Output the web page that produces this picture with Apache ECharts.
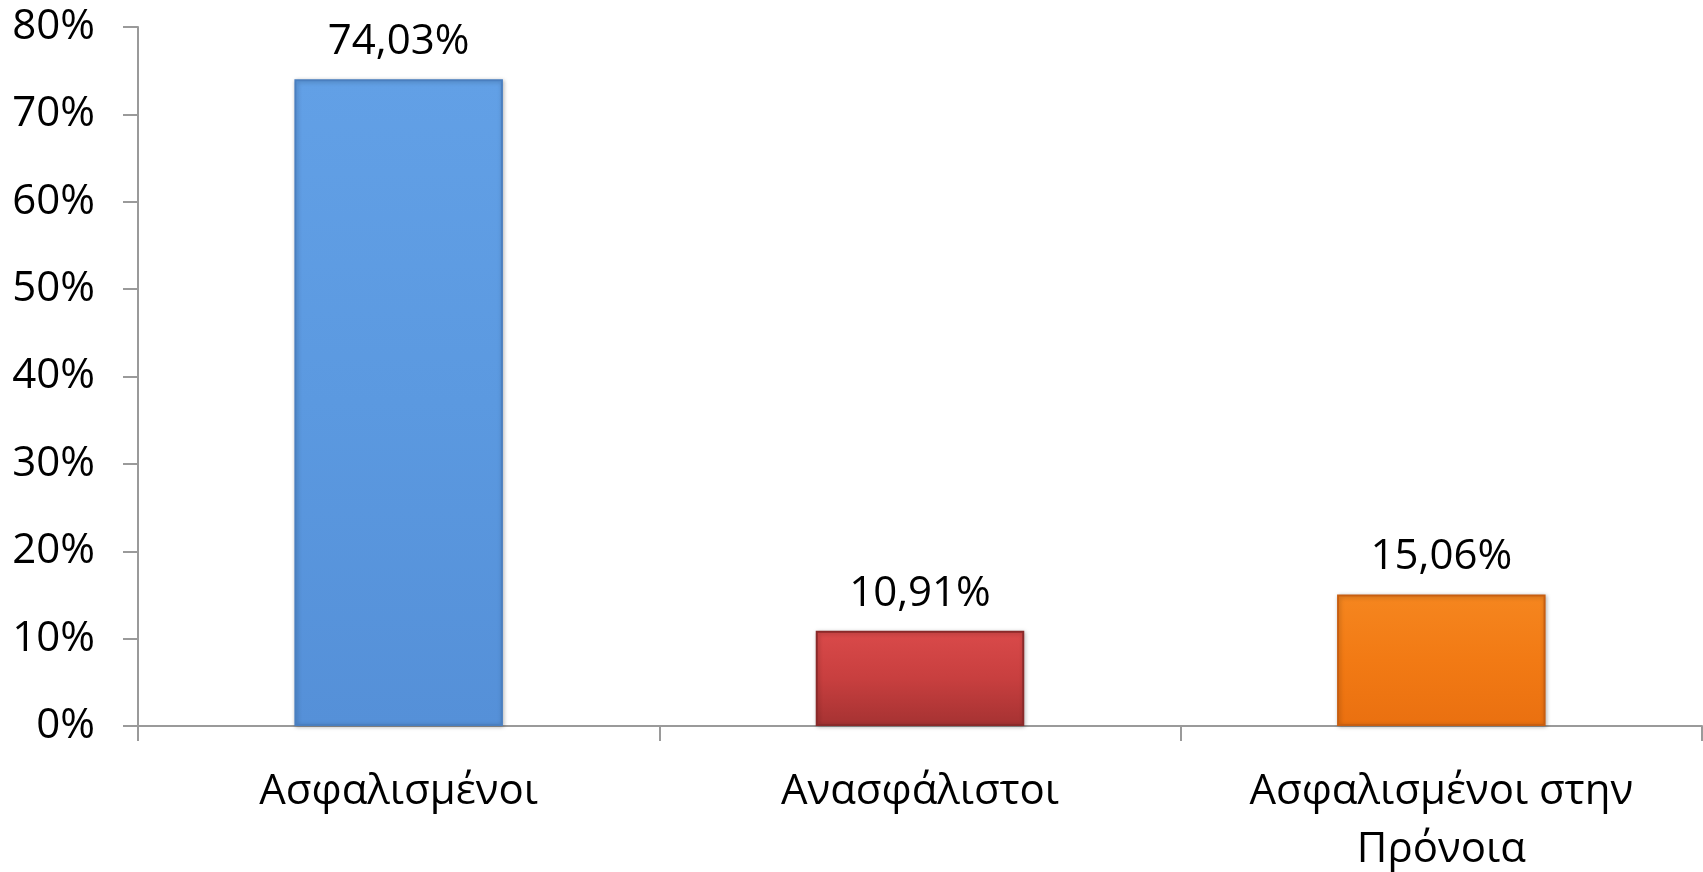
<!DOCTYPE html>
<html><head><meta charset="utf-8">
<script src="https://cdn.jsdelivr.net/npm/echarts@6/dist/echarts.min.js"></script>
<style>html,body{margin:0;padding:0;background:#fff;overflow:hidden}#c{width:1703px;height:872px}</style>
</head><body><div id="c"></div>
<script>
const categories = ["Ασφαλισμένοι", "Ανασφάλιστοι", "Ασφαλισμένοι στην\nΠρόνοια"];
const values = [74.03, 10.91, 15.06];
const valueLabels = ["74,03%", "10,91%", "15,06%"];
const yTicks = [0, 10, 20, 30, 40, 50, 60, 70, 80];

const palette = [
  {top: "#62a0e6", mid: "#5b99e0", bottom: "#5590d8", border: "#4a7fc0"},
  {top: "#da4a4a", mid: "#c83f3f", bottom: "#a53232", border: "#8a2a2a"},
  {top: "#f5861f", mid: "#f27a14", bottom: "#ea7010", border: "#c85e10"}
];

const chart = echarts.init(document.getElementById('c'));
chart.setOption({
  animation: false,
  textStyle: {fontFamily: "Open Sans"},
  grid: {left: 138, right: 1, top: 27, bottom: 146, containLabel: false, outerBoundsMode: 'none'},
  xAxis: {
    type: 'category',
    data: categories,
    axisLine: {lineStyle: {color: '#9a9a9a', width: 2}},
    axisTick: {show: true, length: 15, lineStyle: {color: '#9a9a9a', width: 2}},
    axisLabel: {color: '#000', fontSize: 42, margin: 37, lineHeight: 58, interval: 0, fontFamily: "Open Sans"}
  },
  yAxis: {
    type: 'value',
    min: 0, max: 80, interval: 10,
    splitLine: {show: false},
    axisLine: {show: true, lineStyle: {color: '#9a9a9a', width: 2}},
    axisTick: {show: true, length: 15, lineStyle: {color: '#9a9a9a', width: 2}},
    axisLabel: {color: '#000', fontSize: 42, margin: 43, formatter: v => v + '%', fontFamily: "Open Sans"}
  },
  series: [{
    type: 'bar',
    barWidth: '40%',
    data: values.map((v, i) => ({
      value: v,
      itemStyle: {
        color: new echarts.graphic.LinearGradient(0, 0, 0, 1, [
          {offset: 0, color: palette[i].top},
          {offset: 0.5, color: palette[i].mid},
          {offset: 1, color: palette[i].bottom}
        ]),
        borderColor: palette[i].border,
        borderWidth: 2,
        shadowColor: 'rgba(0,0,0,0.25)',
        shadowBlur: 4,
        shadowOffsetX: 1,
        shadowOffsetY: 1
      }
    })),
    label: {
      show: true,
      position: 'top',
      distance: 16,
      color: '#000',
      fontSize: 42,
      fontFamily: "Open Sans",
      formatter: p => valueLabels[p.dataIndex]
    }
  }]
});
</script>
</body></html>
